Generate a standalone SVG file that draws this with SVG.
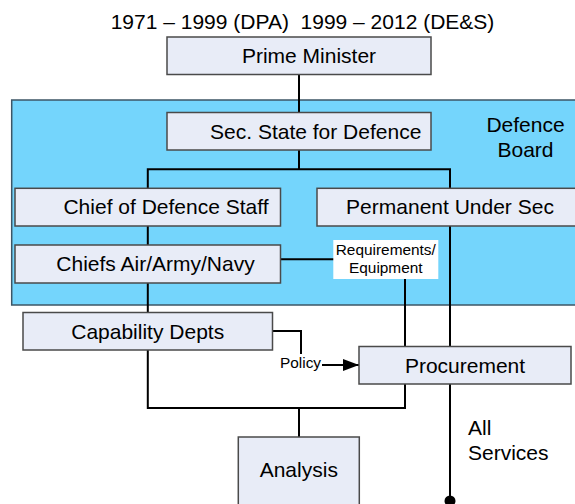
<svg xmlns="http://www.w3.org/2000/svg" width="575" height="504" viewBox="0 0 575 504">
  <style>
    text { font-family: "Liberation Sans", Arial, sans-serif; fill: #000; }
    .t { font-size: 21px; text-anchor: middle; }
    .s { font-size: 15.4px; text-anchor: middle; }
    .box { fill: #E8ECF7; stroke: #4a4a4a; stroke-width: 1.5; }
    .panel { fill: #74D5FC; stroke: #3c5666; stroke-width: 1.5; }
    .conn { fill: none; stroke: #000; stroke-width: 2; }
  </style>
  <defs>
    <marker id="arrow" viewBox="0 0 16 12" refX="16" refY="6" markerWidth="16" markerHeight="12" markerUnits="userSpaceOnUse" orient="auto">
      <path d="M0,0 L16,6 L0,12 Z" fill="#000"/>
    </marker>
  </defs>

  <text class="t" x="302.5" y="29" xml:space="preserve">1971 – 1999 (DPA)  1999 – 2012 (DE&amp;S)</text>

  <g id="defence-board">
    <rect class="panel" x="11.7" y="100" width="580" height="205"/>
    <text class="t" x="525.5" y="132">Defence</text>
    <text class="t" x="525.5" y="157">Board</text>
  </g>

  <g id="connectors">
    <path class="conn" d="M299,74.5 V112.5"/>
    <path class="conn" d="M299,150 V169.3 M147.8,188.3 V169.3 H450 V188.3"/>
    <path class="conn" d="M147.8,226 V245"/>
    <path class="conn" d="M147.8,283 V312.5"/>
    <path class="conn" d="M280.5,259.3 H334"/>
    <path class="conn" d="M405,279 V346.5"/>
    <path class="conn" d="M450,226 V501"/>
    <circle cx="450" cy="501" r="5.5" fill="#000"/>
    <path class="conn" d="M147.8,350 V408 H405 V384"/>
    <path class="conn" d="M299,408 V437"/>
    <path class="conn" d="M272.5,331 H301 V365 H359" marker-end="url(#arrow)"/>
    <rect x="279" y="354" width="43" height="19" fill="#fff"/>
    <text class="s" x="300.5" y="368">Policy</text>
    <rect x="333.3" y="240" width="105" height="39" fill="#fff"/>
    <text class="s" x="385.8" y="255">Requirements/</text>
    <text class="s" x="385.8" y="273.3">Equipment</text>
    <text x="468" y="435" style="font-size:21px">All</text>
    <text x="468" y="460" style="font-size:21px">Services</text>
  </g>

  <g id="prime-minister">
    <rect class="box" x="167" y="37" width="264" height="37.5"/>
    <text class="t" x="309" y="63">Prime Minister</text>
  </g>
  <g id="sec-state">
    <rect class="box" x="167" y="112.5" width="264" height="37.5"/>
    <text class="t" x="315.7" y="138.5">Sec. State for Defence</text>
  </g>
  <g id="chief-defence-staff">
    <rect class="box" x="15" y="188.3" width="265.5" height="37.7"/>
    <text class="t" x="166" y="214">Chief of Defence Staff</text>
  </g>
  <g id="permanent-under-sec">
    <rect class="box" x="317" y="188.3" width="270" height="37.7"/>
    <text class="t" x="450" y="214">Permanent Under Sec</text>
  </g>
  <g id="chiefs">
    <rect class="box" x="15" y="245" width="265.5" height="38"/>
    <text class="t" x="155.5" y="271">Chiefs Air/Army/Navy</text>
  </g>
  <g id="capability">
    <rect class="box" x="23" y="312.5" width="249.5" height="37.5"/>
    <text class="t" x="147.7" y="338.5">Capability Depts</text>
  </g>
  <g id="procurement">
    <rect class="box" x="359" y="346.5" width="212" height="37.5"/>
    <text class="t" x="465" y="372.5">Procurement</text>
  </g>
  <g id="analysis">
    <rect class="box" x="238.3" y="437" width="121" height="80"/>
    <text class="t" x="298.8" y="477">Analysis</text>
  </g>
</svg>
